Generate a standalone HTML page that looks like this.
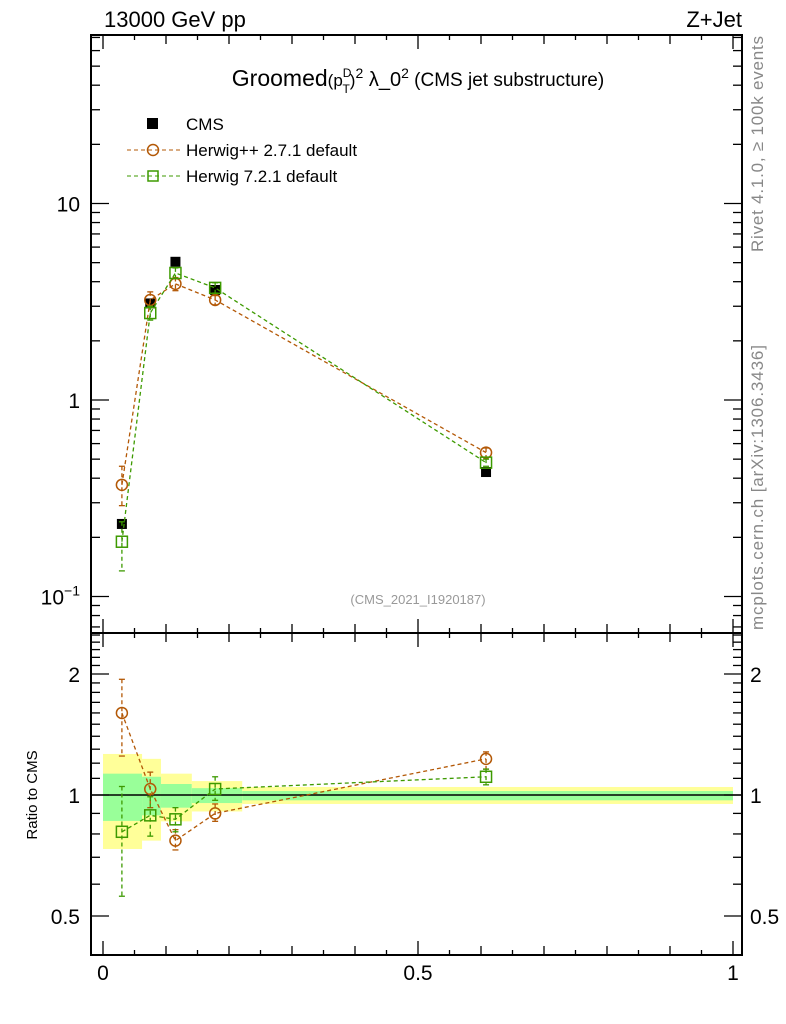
<!DOCTYPE html>
<html><head><meta charset="utf-8"><style>
html,body{margin:0;padding:0;background:#fff;}
svg{display:block;font-family:"Liberation Sans",sans-serif;}
</style></head><body>
<svg id="c" width="786" height="1024" xmlns="http://www.w3.org/2000/svg">
<text x="104" y="27" font-size="22">13000 GeV pp</text>
<text x="742" y="27" font-size="22" text-anchor="end">Z+Jet</text>
<text x="418" y="86" font-size="23" text-anchor="middle">Groomed<tspan font-size="17">(p</tspan><tspan font-size="12" dy="-9">D</tspan><tspan font-size="12" dx="-9" dy="16">T</tspan><tspan font-size="17" dy="-7">)</tspan><tspan font-size="14" dy="-8">2</tspan><tspan font-size="20" dy="8"> λ_0</tspan><tspan font-size="14" dy="-8">2</tspan><tspan font-size="19" dy="8"> (CMS jet substructure)</tspan></text>
<g>
<rect x="147" y="118" width="11" height="11" fill="#000"/>
<text x="186" y="130" font-size="17">CMS</text>
<line x1="127" y1="150" x2="180" y2="150" stroke="#b35806" stroke-dasharray="4,3"/>
<circle cx="153" cy="150" r="5.5" fill="none" stroke="#b35806" stroke-width="1.5"/>
<text x="186" y="156" font-size="17">Herwig++ 2.7.1 default</text>
<line x1="127" y1="176" x2="180" y2="176" stroke="#3d9a00" stroke-dasharray="4,3"/>
<rect x="148" y="171" width="10" height="10" fill="none" stroke="#3d9a00" stroke-width="1.5"/>
<text x="186" y="182" font-size="17">Herwig 7.2.1 default</text>
</g>
<text x="418" y="604" font-size="13" fill="#999" text-anchor="middle">(CMS_2021_I1920187)</text>
<text transform="translate(763,252) rotate(-90)" font-size="17" fill="#888" textLength="216">Rivet 4.1.0, ≥ 100k events</text>
<text transform="translate(763,630) rotate(-90)" font-size="17" fill="#888" textLength="285">mcplots.cern.ch [arXiv:1306.3436]</text>
<text transform="translate(37,795) rotate(-90)" font-size="15" text-anchor="middle">Ratio to CMS</text>
<g id="g"></g>
</svg>
<script>
const xs=[0.030,0.075,0.115,0.178,0.608];
const cms=[0.234,3.1,5.05,3.63,0.43];
const hpp=[0.37,3.23,3.9,3.23,0.54];
const hppUp=[0.46,3.55,4.2,3.4,0.57];
const hppDn=[0.29,2.95,3.6,3.05,0.51];
const h7=[0.19,2.77,4.43,3.72,0.48];
const h7Up=[0.24,3.0,4.7,3.95,0.50];
const h7Dn=[0.135,2.55,4.15,3.5,0.46];
const rHpp=[1.6,1.035,0.77,0.90,1.23];
const rHppUp=[1.94,1.14,0.82,0.95,1.28];
const rHppDn=[1.25,0.93,0.73,0.86,1.16];
const rH7=[0.81,0.89,0.87,1.035,1.11];
const rH7Up=[1.05,0.99,0.93,1.11,1.16];
const rH7Dn=[0.56,0.79,0.81,0.97,1.06];
const binEdges=[0,0.062,0.092,0.141,0.221,1.0];
const yelHi=[1.265,1.23,1.13,1.083,1.047];
const yelLo=[0.734,0.77,0.86,0.91,0.95];
const grnHi=[1.13,1.11,1.065,1.04,1.023];
const grnLo=[0.862,0.89,0.93,0.955,0.97];
const xTickLabels=[0,0.5,1];
const yTickLabels=[10,1];
const rTickLabels=[2,1,0.5];

const L=91,R=742,T=35,M=633,B=955;
const X=v=>103+v*630;
const Y=v=>400-Math.log10(v)*196.5;
const RY=v=>795-Math.log10(v)*402;
const g=document.getElementById('g');
const NS='http://www.w3.org/2000/svg';
function mk(t,a,p){const e=document.createElementNS(NS,t);for(const k in a)e.setAttribute(k,a[k]);(p||g).appendChild(e);return e;}

for(let i=0;i<5;i++){
 const y=mk('rect',{x:X(binEdges[i]),y:RY(yelHi[i]),width:X(binEdges[i+1])-X(binEdges[i]),height:RY(yelLo[i])-RY(yelHi[i]),fill:'#ffff99'});
 
 
 const gr=mk('rect',{x:X(binEdges[i]),y:RY(grnHi[i]),width:X(binEdges[i+1])-X(binEdges[i]),height:RY(grnLo[i])-RY(grnHi[i]),fill:'#99ff99'});
 
 
}
mk('line',{x1:L,x2:R,y1:RY(1),y2:RY(1),stroke:'#000','stroke-width':1.5});

const f1=mk('rect',{x:L,y:T,width:R-L,height:M-T,fill:'none',stroke:'#000','stroke-width':2});


const f2=mk('rect',{x:L,y:M,width:R-L,height:B-M,fill:'none',stroke:'#000','stroke-width':2});



for(let k=0;k<=20;k++){const v=k*0.05,x=X(v);const len=k%10==0?14:(k%2==0?9:5);
 [[T,1],[M,-1],[M,1],[B,-1]].forEach(([y0,d])=>mk('line',{x1:x,x2:x,y1:y0,y2:y0+d*len,stroke:'#000','stroke-width':1.3}));}
xTickLabels.forEach(v=>{const t=mk('text',{x:X(v),y:980,'font-size':21,'text-anchor':'middle'});t.textContent=v;
 
 });
for(let d=-2;d<=1;d++)for(let m=1;m<=9;m++){const v=m*Math.pow(10,d),y=Y(v);if(y<T||y>M)continue;const len=m==1?18:9;
 mk('line',{x1:L,x2:L+len,y1:y,y2:y,stroke:'#000','stroke-width':1.3});mk('line',{x1:R,x2:R-len,y1:y,y2:y,stroke:'#000','stroke-width':1.3});}
yTickLabels.forEach(v=>{const t=mk('text',{x:80,y:Y(v)+8,'font-size':21,'text-anchor':'end'});t.textContent=v;
 
 });
{const t=mk('text',{x:80,y:Y(0.1)+8,'font-size':21,'text-anchor':'end'});t.innerHTML='10<tspan font-size="14" dy="-9">−1</tspan>';
 
 }
for(let v=0.4;v<=2.55;v=Math.round((v+0.1)*10)/10){const y=RY(v);if(y<M||y>B)continue;const big=[0.5,1,2].includes(v);const len=big?18:9;
 mk('line',{x1:L,x2:L+len,y1:y,y2:y,stroke:'#000','stroke-width':1.3});mk('line',{x1:R,x2:R-len,y1:y,y2:y,stroke:'#000','stroke-width':1.3});}
rTickLabels.forEach(v=>{[[80,'end'],[750,'start']].forEach(([x,a])=>{const t=mk('text',{x:x,y:RY(v)+8,'font-size':21,'text-anchor':a});t.textContent=v;
 
 });});

function series(vals,up,dn,yf,col,shape,name){
 const pts=vals.map((v,i)=>X(xs[i])+','+yf(v)).join(' ');
 const pl=mk('polyline',{points:pts,fill:'none',stroke:col,'stroke-width':1.3,'stroke-dasharray':'4,3'});
 
 
 vals.forEach((v,i)=>{const x=X(xs[i]),y=yf(v);
  mk('line',{x1:x,x2:x,y1:yf(up[i]),y2:yf(dn[i]),stroke:col,'stroke-width':1.3,'stroke-dasharray':'4,3'});
  mk('line',{x1:x-3,x2:x+3,y1:yf(up[i]),y2:yf(up[i]),stroke:col,'stroke-width':1.3});
  mk('line',{x1:x-3,x2:x+3,y1:yf(dn[i]),y2:yf(dn[i]),stroke:col,'stroke-width':1.3});
  let m;
  if(shape=='c')m=mk('circle',{cx:x,cy:y,r:5.5,fill:'none',stroke:col,'stroke-width':1.5});
  else m=mk('rect',{x:x-5.5,y:y-5.5,width:11,height:11,fill:'none',stroke:col,'stroke-width':1.5});
  
  
 });
}
cms.forEach((v,i)=>{const r=mk('rect',{x:X(xs[i])-5,y:Y(v)-5,width:10,height:10,fill:'#000'});
 
 });
series(hpp,hppUp,hppDn,Y,'#b35806','c','herwigpp');
series(h7,h7Up,h7Dn,Y,'#3d9a00','s','herwig7');
series(rHpp,rHppUp,rHppDn,RY,'#b35806','c','ratio-herwigpp');
series(rH7,rH7Up,rH7Dn,RY,'#3d9a00','s','ratio-herwig7');
</script>
</body></html>
